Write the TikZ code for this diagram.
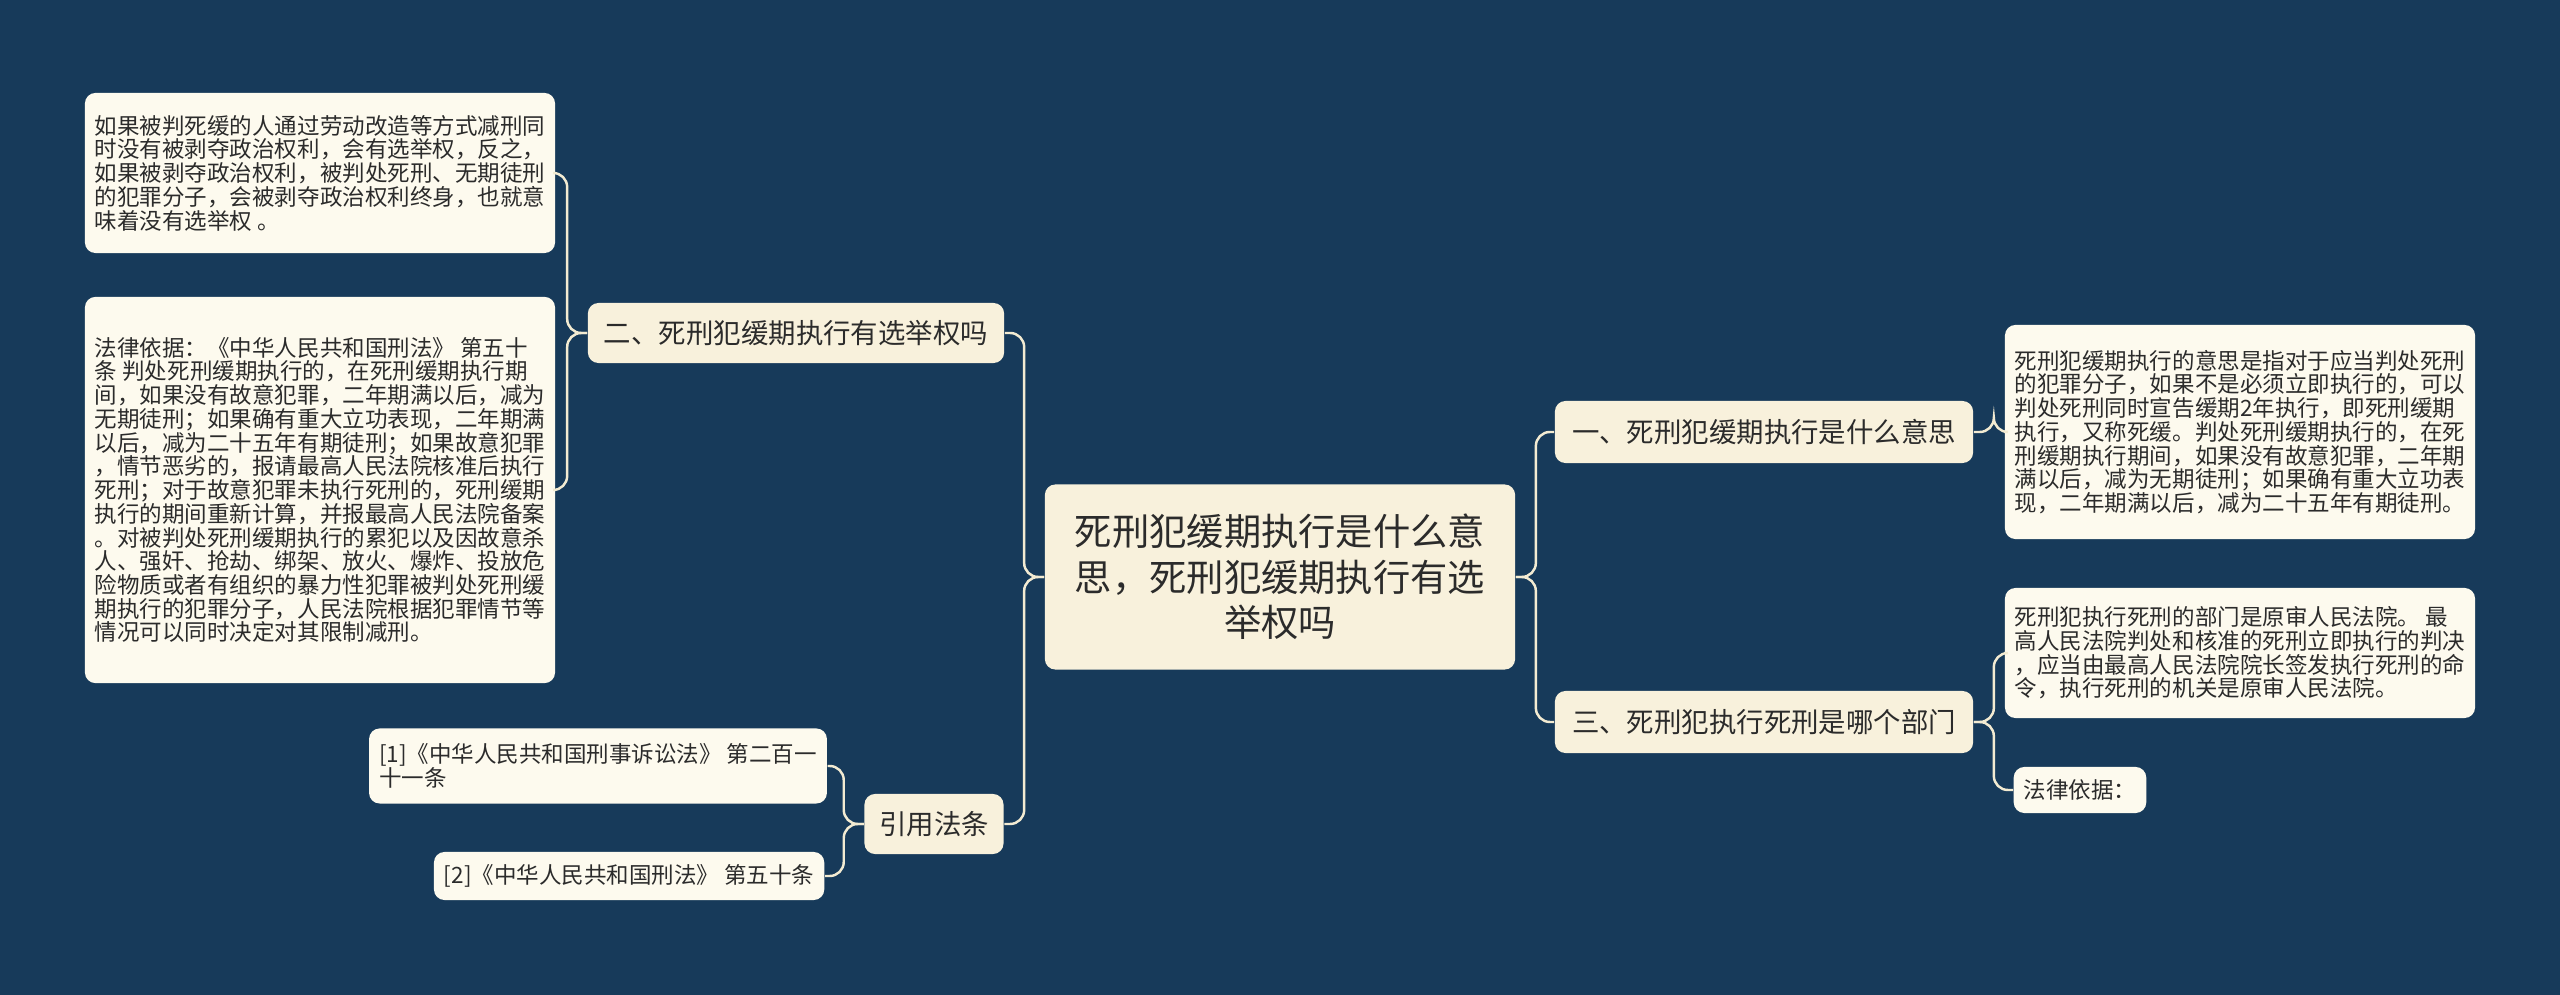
\documentclass[tikz,border=0pt]{standalone}
\usepackage{fontspec}
\setmainfont{Noto Sans CJK SC}
\definecolor{bgblue}{HTML}{173A5A}
\definecolor{cream}{HTML}{FDFAEE}
\definecolor{centrebg}{HTML}{F8F1DC}
\definecolor{linec}{HTML}{F3EBD2}
\definecolor{txt}{HTML}{2B2B2B}
\tikzset{
  leaf/.style={fill=cream,rounded corners=3pt,inner sep=0.1cm,align=left,text=txt,
    font=\fontsize{6.4pt}{6.75pt}\selectfont},
  branch/.style={fill=centrebg,rounded corners=3pt,inner sep=0pt,align=center,text=txt,
    font=\fontsize{7.8pt}{9pt}\selectfont},
  link/.style={linec,line width=0.7pt,rounded corners=4pt}
}
\begin{document}
\begin{tikzpicture}[x=0.01cm,y=-0.01cm]
  % background
  \fill[bgblue] (0,0) rectangle (2560,995);
  \useasboundingbox (0,0) rectangle (2560,995);

  % centre and branches
  \node[branch,minimum width=4.7cm,minimum height=1.85cm,font=\fontsize{10.6pt}{13pt}\selectfont]
    (root) at (1280,577) {死刑犯缓期执行是什么意\\思，死刑犯缓期执行有选\\举权吗};
  \node[branch,minimum width=4.18cm,minimum height=0.62cm] (meaning) at (1764,432) {一、死刑犯缓期执行是什么意思};
  \node[branch,minimum width=4.18cm,minimum height=0.62cm] (dept) at (1764,722) {三、死刑犯执行死刑是哪个部门};
  \node[branch,minimum width=4.16cm,minimum height=0.6cm] (vote) at (796,333) {二、死刑犯缓期执行有选举权吗};
  \node[branch,minimum width=1.39cm,minimum height=0.6cm] (cite) at (934,824) {引用法条};

  % leaves, left
  \node[leaf,minimum width=4.54cm,minimum height=1.6cm] (voteA) at (320,173) {如果被判死缓的人通过劳动改造等方式减刑同\\时没有被剥夺政治权利，会有选举权，反之，\\如果被剥夺政治权利，被判处死刑、无期徒刑\\的犯罪分子，会被剥夺政治权利终身，也就意\\味着没有选举权 。};
  \node[leaf,minimum width=4.54cm,minimum height=3.86cm] (voteB) at (320,490) {法律依据：《中华人民共和国刑法》 第五十\\条 判处死刑缓期执行的，在死刑缓期执行期\\间，如果没有故意犯罪，二年期满以后，减为\\无期徒刑；如果确有重大立功表现，二年期满\\以后，减为二十五年有期徒刑；如果故意犯罪\\，情节恶劣的，报请最高人民法院核准后执行\\死刑；对于故意犯罪未执行死刑的，死刑缓期\\执行的期间重新计算，并报最高人民法院备案\\。对被判处死刑缓期执行的累犯以及因故意杀\\人、强奸、抢劫、绑架、放火、爆炸、投放危\\险物质或者有组织的暴力性犯罪被判处死刑缓\\期执行的犯罪分子，人民法院根据犯罪情节等\\情况可以同时决定对其限制减刑。};
  \node[leaf,minimum width=4.53cm,minimum height=0.75cm] (citeA) at (598,766) {[1]《中华人民共和国刑事诉讼法》 第二百一\\十一条};
  \node[leaf,minimum width=3.79cm,minimum height=0.48cm,anchor=east] (citeB) at (825,876) {[2]《中华人民共和国刑法》 第五十条};

  % leaves, right
  \node[leaf,minimum width=4.53cm,minimum height=2.14cm] (meaningA) at (2240,432) {死刑犯缓期执行的意思是指对于应当判处死刑\\的犯罪分子，如果不是必须立即执行的，可以\\判处死刑同时宣告缓期2年执行，即死刑缓期\\执行，又称死缓。判处死刑缓期执行的，在死\\刑缓期执行期间，如果没有故意犯罪，二年期\\满以后，减为无期徒刑；如果确有重大立功表\\现，二年期满以后，减为二十五年有期徒刑。};
  \node[leaf,minimum width=4.53cm,minimum height=1.3cm] (deptA) at (2240,653) {死刑犯执行死刑的部门是原审人民法院。 最\\高人民法院判处和核准的死刑立即执行的判决\\，应当由最高人民法院院长签发执行死刑的命\\令，执行死刑的机关是原审人民法院。};
  \node[leaf,minimum width=1.28cm,minimum height=0.46cm,anchor=west] (deptB) at (2013,790) {法律依据：};

  % connectors
  \foreach \k in {meaning,dept}
    \draw[link] (root.east) -- ++(20,0) |- (\k.west);
  \foreach \k in {vote,cite}
    \draw[link] (root.west) -- ++(-20,0) |- (\k.east);
  \draw[link] (meaning.east) -- ++(20,0) |- (meaningA.west);
  \foreach \k in {deptA,deptB}
    \draw[link] (dept.east) -- ++(20,0) |- (\k.west);
  \foreach \k in {voteA,voteB}
    \draw[link] (vote.west) -- ++(-20,0) |- (\k.east);
  \foreach \k in {citeA,citeB}
    \draw[link] (cite.west) -- ++(-20,0) |- (\k.east);
\end{tikzpicture}
\end{document}
